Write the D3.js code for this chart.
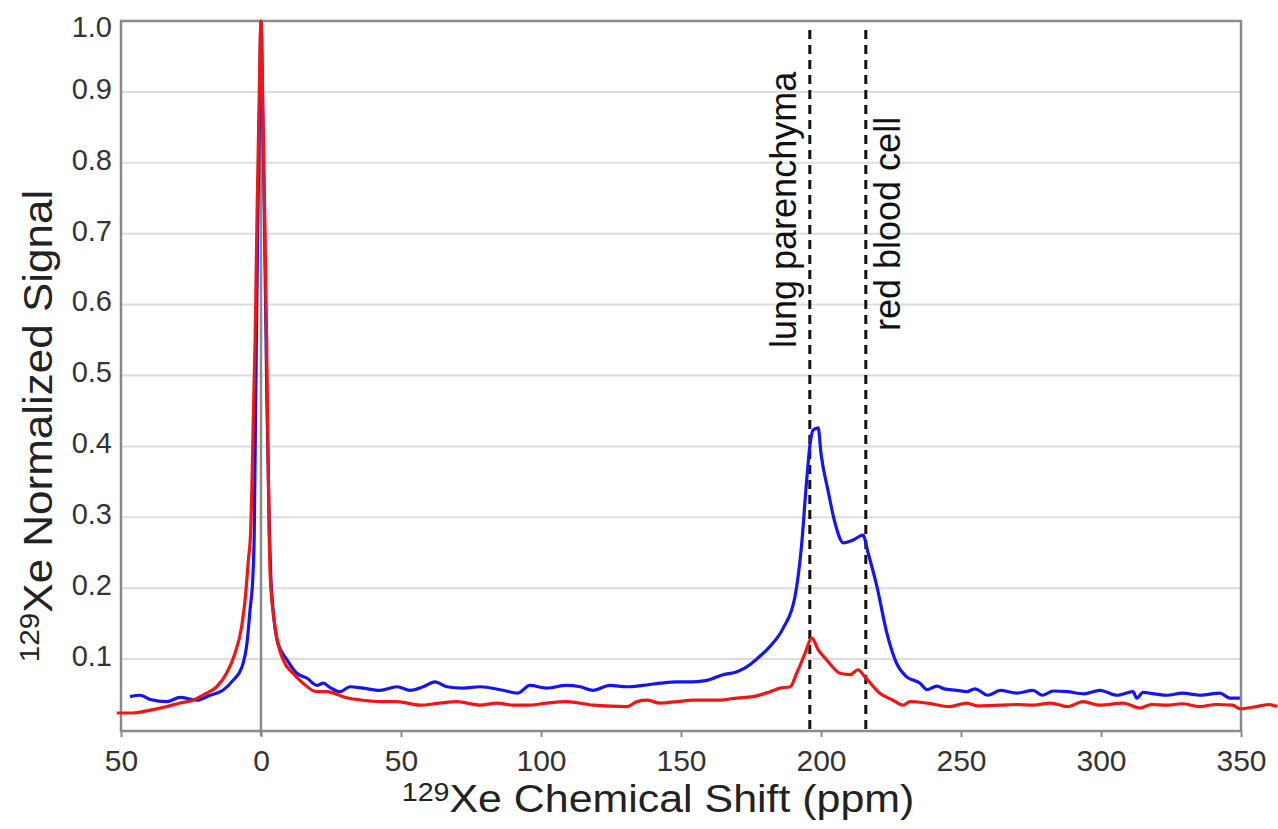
<!DOCTYPE html>
<html>
<head>
<meta charset="utf-8">
<script src="https://cdn.jsdelivr.net/npm/d3@7"></script>
<style>
  html, body { margin: 0; padding: 0; background: #fff; }
  svg { display: block; font-family: "Liberation Sans", Arial, Helvetica, sans-serif; }
</style>
</head>
<body>
<svg id="chart" width="1278" height="829"></svg>
<script>
// ---- data ----
const xTicks = [-50, 0, 50, 100, 150, 200, 250, 300, 350];
const yTicks = [0.1, 0.2, 0.3, 0.4, 0.5, 0.6, 0.7, 0.8, 0.9, 1.0];
const gridValues = [0.1, 0.2, 0.3, 0.4, 0.5, 0.6, 0.7, 0.8, 0.9];

const markerPositions = [196, 216];
const markerLabels = ["lung parenchyma", "red blood cell"];

// blue spectrum (ppm, normalized signal)
const bluePpm = [-46.8,-43.2,-39.6,-33.6,-28.9,-22.9,-18.2,-13.6,-10,-6.8,-5,-3.9,-2.9,-2.4,-1.9,-1.2,-0.6,0,
  0.7,1.3,2.1,3.0,3.5,4.3,6,9.3,12.8,16.4,20,22.3,24.6,28.2,31.8,36.4,42.5,48.6,53.2,57.9,62.1,66.4,72.1,78.2,86.4,91.8,96,102,
  109,114,118.6,124.6,130.7,136.4,142.5,148.6,154.3,159.3,165,170,174.6,177,181.8,186.4,190.7,193,194.9,196,197.2,199,200,202.5,
  205,208,211.5,215,216.8,220,223.5,227,230.6,235.4,237.8,241.4,244,248.6,252,255,259.6,264,270,275.7,279,283,288,294,299.6,305.7,
  311.4,312.8,315,319,323.6,329,335.4,342.5,346,349.6];
const blueVal = [0.047,0.049,0.043,0.040,0.046,0.042,0.049,0.056,0.070,0.089,0.123,0.170,0.216,0.28,0.465,0.70,0.86,1.0,
  0.86,0.70,0.465,0.28,0.216,0.170,0.123,0.099,0.080,0.073,0.063,0.066,0.060,0.054,0.061,0.059,0.056,0.061,0.056,0.061,0.068,0.061,0.059,0.061,0.056,0.052,0.063,0.059,
  0.063,0.061,0.056,0.063,0.061,0.063,0.066,0.068,0.068,0.070,0.078,0.082,0.092,0.100,0.118,0.143,0.188,0.258,0.353,0.400,0.423,0.426,0.39,0.338,
  0.292,0.264,0.268,0.275,0.250,0.202,0.137,0.094,0.075,0.066,0.057,0.062,0.058,0.056,0.054,0.058,0.049,0.056,0.052,0.056,0.049,0.055,0.054,0.051,0.056,0.049,
  0.054,0.045,0.053,0.051,0.049,0.052,0.049,0.052,0.045,0.045];

// red spectrum (ppm, normalized signal)
const redPpm = [-51.5,-45.7,-40.8,-33.7,-28.9,-24.3,-19.4,-15.8,-12.3,-9.3,-6.9,-5.7,-4.5,-3.7,-2.6,-2.1,-1.4,-0.7,0,
  0.6,1.3,2.0,2.9,3.3,5,7.9,11.4,15,19.9,23.5,26,29.3,36.4,42.5,48.6,56.8,63.9,70,78.2,84.3,90,96,102,
  109,118.6,130.7,134.3,137.9,142.5,148.6,154.3,162.9,170,175.7,181.8,185.4,189,191.3,194.3,196.7,199,202,206.8,210.4,213.2,215.7,
  221,225.7,229.3,231.8,237.8,246,252,256,264,270,275.7,282,288,293.6,299.6,307.9,313.9,318,323.6,329,335.4,341,347,349.6,356.8,360,363];
const redVal = [0.024,0.024,0.027,0.033,0.038,0.042,0.052,0.061,0.080,0.108,0.146,0.183,0.240,0.28,0.465,0.55,0.73,0.88,1.0,
  0.88,0.73,0.55,0.28,0.216,0.146,0.099,0.080,0.066,0.054,0.054,0.052,0.047,0.042,0.040,0.040,0.035,0.038,0.040,0.035,0.038,0.035,0.035,0.038,
  0.040,0.035,0.033,0.040,0.042,0.038,0.040,0.042,0.042,0.045,0.047,0.054,0.059,0.061,0.080,0.108,0.130,0.113,0.099,0.080,0.078,0.085,0.075,
  0.052,0.042,0.035,0.040,0.038,0.033,0.038,0.034,0.035,0.036,0.035,0.038,0.033,0.040,0.035,0.038,0.031,0.036,0.035,0.037,0.033,0.036,0.035,0.030,0.034,0.036,0.033];

// ---- layout ----
const svg = d3.select("#chart");
const L = 121, R = 1241, T = 21, B = 730;

const x = d3.scaleLinear().domain([-50, 350]).range([L, R]);
const y = d3.scaleLinear().domain([0, 1]).range([B, T]);

// gridlines
svg.append("g").selectAll("line").data(gridValues).join("line")
  .attr("x1", L).attr("x2", R)
  .attr("y1", d => y(d)).attr("y2", d => y(d))
  .attr("stroke", "#dcdcdc").attr("stroke-width", 2);

// zero line
svg.append("line")
  .attr("x1", x(0)).attr("x2", x(0))
  .attr("y1", T).attr("y2", B + 6)
  .attr("stroke", "#8a8a8a").attr("stroke-width", 2.5);

// x axis
const xAxis = svg.append("g").attr("transform", `translate(0,${B + 1})`)
  .call(d3.axisBottom(x).tickValues(xTicks).tickSize(6).tickPadding(13)
    .tickFormat(d => String(Math.abs(d))));
xAxis.select(".domain").remove();
xAxis.selectAll(".tick line").attr("stroke", "#8a8a8a").attr("stroke-width", 2);
xAxis.selectAll(".tick text").attr("font-size", 30).attr("fill", "#333")
  .attr("font-family", "Liberation Sans, Arial, sans-serif");

// y axis
const yAxis = svg.append("g").attr("transform", `translate(${L},0)`)
  .call(d3.axisLeft(y).tickValues(yTicks).tickSize(0).tickPadding(9)
    .tickFormat(d3.format(".1f")));
yAxis.select(".domain").remove();
yAxis.selectAll(".tick text").attr("font-size", 29).attr("fill", "#333")
  .attr("font-family", "Liberation Sans, Arial, sans-serif")
  .attr("dy", d => d === 1 ? "0.55em" : "0.22em");

// frame
svg.append("rect")
  .attr("x", L).attr("y", T).attr("width", R - L).attr("height", B - T + 1)
  .attr("fill", "none").attr("stroke", "#8a8a8a").attr("stroke-width", 2.5);

// marker dashed lines
svg.append("g").selectAll("line").data(markerPositions).join("line")
  .attr("x1", d => x(d)).attr("x2", d => x(d))
  .attr("y1", T + 9).attr("y2", B)
  .attr("stroke", "#111").attr("stroke-width", 3)
  .attr("stroke-dasharray", "9,6");

// spectra
const line = d3.line().x(d => x(d[0])).y(d => y(d[1])).curve(d3.curveMonotoneX);
const blue = bluePpm.map((p, i) => [p, blueVal[i]]);
const red = redPpm.map((p, i) => [p, redVal[i]]);

svg.append("path").datum(blue).attr("d", line)
  .attr("fill", "none").attr("stroke", "#1414f5").attr("stroke-width", 3.2)
  .attr("stroke-linejoin", "round");
svg.append("path").datum(red).attr("d", line)
  .attr("fill", "none").attr("stroke", "#f51414").attr("stroke-width", 3.2)
  .attr("stroke-linejoin", "round");

// marker labels
const labelPos = [[x(markerPositions[0]) - 14, 348], [x(markerPositions[1]) + 34, 331]];
svg.append("g").selectAll("text").data(markerLabels).join("text")
  .attr("transform", (d, i) => `translate(${labelPos[i][0]},${labelPos[i][1]}) rotate(-90)`)
  .attr("font-size", 36).attr("fill", "#111")
  .text(d => d);

// axis titles
const xt = svg.append("text")
  .attr("transform", "translate(658,812) scale(1.1,1)").attr("text-anchor", "middle")
  .attr("font-size", 39).attr("fill", "#222");
xt.append("tspan").attr("font-size", 26).attr("dy", -11).text("129");
xt.append("tspan").attr("dy", 11).text("Xe Chemical Shift (ppm)");

const yt = svg.append("text")
  .attr("transform", "translate(52,426) rotate(-90) scale(1.1,1)").attr("text-anchor", "middle")
  .attr("font-size", 40).attr("fill", "#222");
yt.append("tspan").attr("font-size", 27).attr("dy", -13).text("129");
yt.append("tspan").attr("dy", 13).text("Xe Normalized Signal");
</script>
</body>
</html>
